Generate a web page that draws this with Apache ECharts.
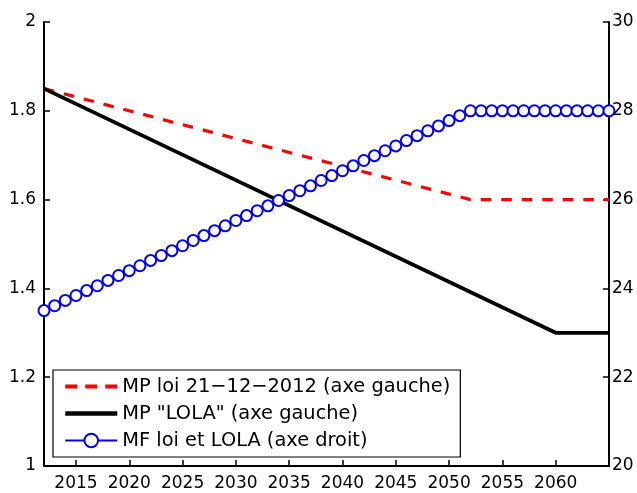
<!DOCTYPE html>
<html>
<head>
<meta charset="utf-8">
<script src="https://cdn.jsdelivr.net/npm/echarts@6/dist/echarts.min.js"></script>
<style>
html,body{margin:0;padding:0;background:#fff;}
#c{width:637px;height:493px;}
</style>
</head>
<body>
<div id="c"></div>
<script>
// ---- data ----
var xTickLabels = [2015, 2020, 2025, 2030, 2035, 2040, 2045, 2050, 2055, 2060];

var redYears   = [2012, 2052, 2065];
var redValues  = [1.85, 1.60, 1.60];

var blackYears  = [2012, 2060, 2065];
var blackValues = [1.85, 1.30, 1.30];

var blueYears = [2012,2013,2014,2015,2016,2017,2018,2019,2020,2021,2022,2023,2024,2025,2026,2027,2028,2029,2030,2031,2032,2033,2034,2035,2036,2037,2038,2039,2040,2041,2042,2043,2044,2045,2046,2047,2048,2049,2050,2051,2052,2053,2054,2055,2056,2057,2058,2059,2060,2061,2062,2063,2064,2065];
var blueValues = [23.50,23.61,23.73,23.84,23.95,24.06,24.18,24.29,24.40,24.51,24.63,24.74,24.85,24.96,25.08,25.19,25.30,25.41,25.53,25.64,25.75,25.86,25.98,26.09,26.20,26.31,26.43,26.54,26.65,26.76,26.88,26.99,27.10,27.21,27.33,27.44,27.55,27.66,27.78,27.89,28.00,28.00,28.00,28.00,28.00,28.00,28.00,28.00,28.00,28.00,28.00,28.00,28.00,28.00];

var seriesNames = [
  'MP loi 21\u221212\u22122012 (axe gauche)',
  'MP "LOLA" (axe gauche)',
  'MF loi et LOLA (axe droit)'
];

function pairs(xs, ys){ return xs.map(function(x,i){ return [x, ys[i]]; }); }

var FONT = '"DejaVu Sans", "Liberation Sans", Arial, sans-serif';
var TFS = 17;
var LFS = 19.4;

var chart = echarts.init(document.getElementById('c'), null, {renderer:'canvas'});
chart.setOption({
  animation: false,
  backgroundColor: '#ffffff',
  textStyle: {fontFamily: FONT},
  grid: {left: 44, right: 28, top: 22, bottom: 27, containLabel: false},
  xAxis: {
    type: 'value', min: 2012, max: 2065,
    axisLine: {show: true, onZero: false, lineStyle: {color: '#000', width: 2}},
    axisTick: {show: true, inside: true, length: 6, lineStyle: {color: '#000', width: 1.5}, customValues: xTickLabels},
    axisLabel: {show: true, color: '#000', fontSize: TFS, fontFamily: FONT, margin: 9, customValues: xTickLabels,
      formatter: function(v){ return String(v); }},
    splitLine: {show: false}
  },
  yAxis: [{
    type: 'value', min: 1, max: 2, interval: 0.2, position: 'left',
    axisLine: {show: true, lineStyle: {color: '#000', width: 2}},
    axisTick: {show: true, inside: true, length: 6, lineStyle: {color: '#000', width: 1.5}},
    axisLabel: {color: '#000', fontSize: TFS, fontFamily: FONT, margin: 8},
    splitLine: {show: false}
  }, {
    type: 'value', min: 20, max: 30, interval: 2, position: 'right',
    axisLine: {show: true, lineStyle: {color: '#000', width: 2}},
    axisTick: {show: true, inside: true, length: 6, lineStyle: {color: '#000', width: 1.5}},
    axisLabel: {color: '#000', fontSize: TFS, fontFamily: FONT, margin: 3},
    splitLine: {show: false}
  }],
  legend: {
    orient: 'vertical',
    left: 53, top: 370,
    backgroundColor: '#fff',
    borderColor: '#000', borderWidth: 1.2,
    padding: [7, 10, 7, 10],
    itemWidth: 52, itemHeight: 17, itemGap: 8,
    textStyle: {color: '#000', fontSize: LFS, fontFamily: FONT},
    data: [
      {name: seriesNames[0], itemStyle: {opacity: 0}, lineStyle: {width: 4, type: [12, 8]}},
      {name: seriesNames[1], itemStyle: {opacity: 0}, lineStyle: {width: 4.5}},
      {name: seriesNames[2], lineStyle: {width: 2}}
    ]
  },
  series: [{
    name: seriesNames[0], type: 'line', yAxisIndex: 0,
    data: pairs(redYears, redValues),
    symbol: 'none',
    lineStyle: {color: '#ff0000', width: 3.2, type: [10.5, 10]},
    itemStyle: {color: '#ff0000'}
  }, {
    name: seriesNames[1], type: 'line', yAxisIndex: 0,
    data: pairs(blackYears, blackValues),
    symbol: 'none',
    lineStyle: {color: '#000', width: 3.8},
    itemStyle: {color: '#000'}
  }, {
    name: seriesNames[2], type: 'line', yAxisIndex: 1,
    data: pairs(blueYears, blueValues),
    symbol: 'emptyCircle', symbolSize: 11,
    lineStyle: {color: '#0000ff', width: 2},
    itemStyle: {color: '#0000ff', borderColor: '#0000ff', borderWidth: 2.2}
  }]
});
</script>
</body>
</html>
